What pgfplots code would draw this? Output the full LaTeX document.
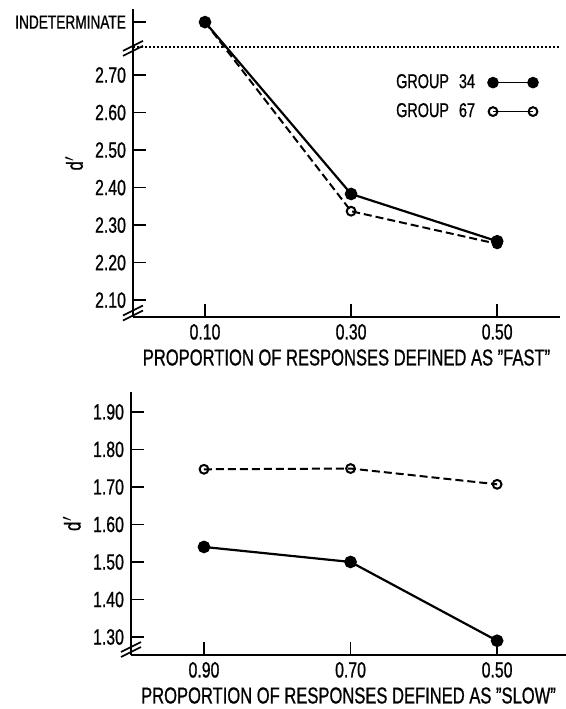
\documentclass[border=0pt]{standalone}
\usepackage{fontspec}
\setmainfont{Liberation Sans}[FakeStretch=0.72, FakeBold=0.8]
\usepackage{pgfplots}
\pgfplotsset{compat=1.18}
\usetikzlibrary{calc}

\pgfplotsset{
  panel/.style={
    scale only axis,
    axis lines*=left,
    axis line style={line width=1pt},
    tick align=inside,
    major tick length=6.5pt,
    tick style={line width=0.7pt, black},
    xtick={0,1,2},
    ticklabel style={font=\fontsize{11}{13}\selectfont},
    label style={font=\fontsize{11.5}{13}\selectfont},
    xlabel style={yshift=2pt},
    ylabel={d$'$},
    clip=false,
  },
  g34/.style={black, line width=1.1pt, mark=*, mark size=2.6pt},
  g67/.style={black, line width=1pt, dash pattern=on 4pt off 2pt,
    mark=o, mark size=2.2pt, mark options={solid, fill=white, line width=1pt}},
}

\begin{document}
\begin{tikzpicture}
\begin{axis}[panel, name=top,
    width=213.5pt, height=154pt,
    xmin=-0.493, xmax=2.43,
    ymin=2.055, ymax=2.876,
    xticklabels={0.10,0.30,0.50},
    ytick={2.1,2.2,2.3,2.4,2.5,2.6,2.7,2.841},
    yticklabels={2.10,2.20,2.30,2.40,2.50,2.60,2.70,{\fontsize{9.5}{11}\selectfont INDETERMINATE}},
    xlabel={PROPORTION OF RESPONSES DEFINED AS "FAST"},
    ylabel style={at={(axis description cs:-0.138,0.5)}, anchor=center},
    legend style={at={(axis description cs:0.778,0.714)}, anchor=center,
      draw=none, fill=none, font=\fontsize{10}{12}\selectfont, row sep=2pt},
    legend plot pos=right,
    legend cell align=left,
    legend image code/.code={
      \path[draw=none, fill=none] (0pt,-2pt) rectangle (0.1pt,2pt);
      \draw[#1, solid, line width=0.6pt] plot coordinates {(7pt,0pt) (27pt,0pt)};},
  ]
  % dotted line marking the break below "indeterminate"
  \draw[line width=0.9pt, dash pattern=on 0.8pt off 1.2pt] (axis cs:-0.493,2.775) -- (axis cs:2.43,2.775);
  \draw[line width=0.8pt] (axis cs:-0.493,2.775) ++(-5pt,-2pt) -- ++(10pt,5pt);
  \draw[line width=0.8pt] (axis cs:-0.493,2.775) ++(-5pt,-4.5pt) -- ++(10pt,5pt);
  \draw[line width=0.8pt] (axis cs:-0.493,2.075) ++(-5pt,-3pt) -- ++(10pt,5pt);
  \draw[line width=0.8pt] (axis cs:-0.493,2.075) ++(-5pt,-5.5pt) -- ++(10pt,5pt);

  \addplot[g34] coordinates {(0,2.841) (1,2.383) (2,2.257)};
  \addlegendentry{GROUP\hspace{0.5em}34}
  \addplot[g67] coordinates {(0,2.841) (1,2.337) (2,2.250)};
  \addlegendentry{GROUP\hspace{0.5em}67}
\end{axis}

\begin{axis}[panel, at={(-1pt,-169pt)}, anchor=south west,
    width=217.5pt, height=131.5pt,
    xmin=-0.498, xmax=2.47,
    ymin=1.252, ymax=1.953,
    xticklabels={0.90,0.70,0.50},
    ytick={1.3,1.4,1.5,1.6,1.7,1.8,1.9},
    yticklabels={1.30,1.40,1.50,1.60,1.70,1.80,1.90},
    xlabel={PROPORTION OF RESPONSES DEFINED AS "SLOW"},
    ylabel style={at={(axis description cs:-0.136,0.5)}, anchor=center},
  ]
  \draw[line width=0.8pt] (axis cs:-0.498,1.276) ++(-5pt,-3pt) -- ++(10pt,5pt);
  \draw[line width=0.8pt] (axis cs:-0.498,1.276) ++(-5pt,-5.5pt) -- ++(10pt,5pt);

  \addplot[g34] coordinates {(0,1.54) (1,1.50) (2,1.29)};
  \addplot[g67] coordinates {(0,1.747) (1,1.749) (2,1.707)};
\end{axis}

\pgfresetboundingbox
\path (-66.5pt,-196pt) rectangle (216.5pt,158.5pt);
\end{tikzpicture}
\end{document}
